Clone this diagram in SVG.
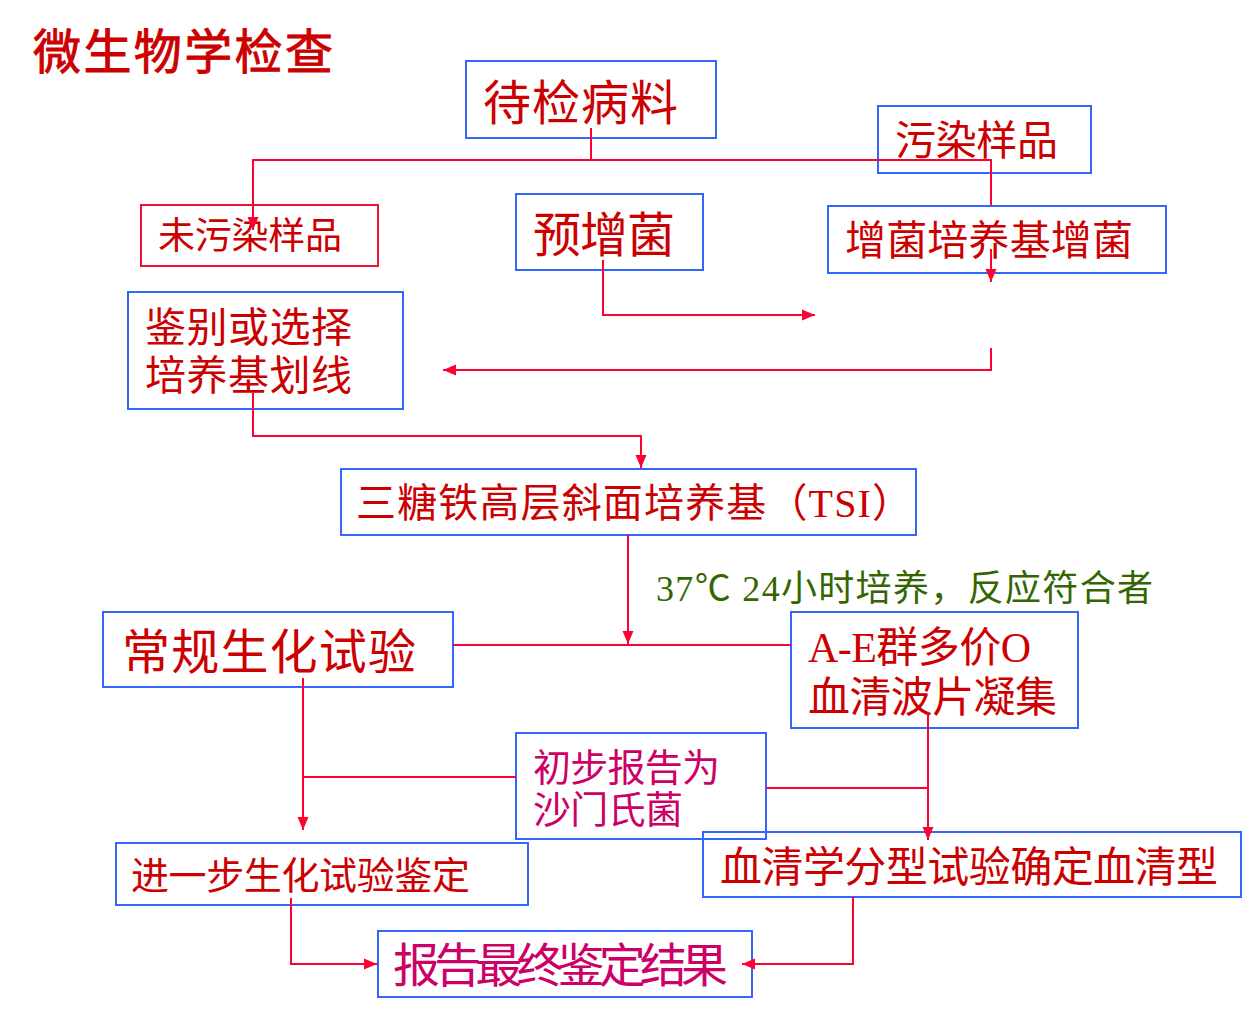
<svg xmlns="http://www.w3.org/2000/svg" width="1253" height="1012" viewBox="0 0 1253 1012">
<defs>
<style>
text{font-family:"Liberation Serif","Noto Sans CJK SC",serif;fill:#CC0000;}
.title{stroke:#CC0000;stroke-width:0.9;}
.pink{fill:#CC0066;}
.green{fill:#336600;}
.box{fill:none;stroke:#3366FF;stroke-width:2;}
.rbox{fill:none;stroke:#EE1133;stroke-width:2;}
.c{fill:none;stroke:#FF0033;stroke-width:2;}
.a{marker-end:url(#arr);}
</style>
<marker id="arr" markerUnits="userSpaceOnUse" markerWidth="13" markerHeight="13" refX="13" refY="6.5" orient="auto" viewBox="0 0 13 13">
<path d="M0,1 L13,6.5 L0,12 z" fill="#FF0033"/>
</marker>
</defs>
<rect width="1253" height="1012" fill="#FFFFFF"/>
<text class="title" x="33" y="69" font-size="48" textLength="300">微生物学检查</text>

<g id="n1"><rect class="box" x="466" y="61" width="250" height="77"/><text x="483" y="120" font-size="48" textLength="195">待检病料</text></g>
<g id="n2"><rect class="box" x="878" y="106" width="213" height="67"/><text x="895" y="155" font-size="41" textLength="163">污染样品</text></g>
<g id="n3"><rect class="rbox" x="141" y="205" width="237" height="61"/><text x="158" y="249" font-size="37" textLength="184">未污染样品</text></g>
<g id="n4"><rect class="box" x="516" y="194" width="187" height="76"/><text x="533" y="252" font-size="48" textLength="142">预增菌</text></g>
<g id="n5"><rect class="box" x="828" y="206" width="338" height="67"/><text x="845" y="255" font-size="41" textLength="288">增菌培养基增菌</text></g>
<g id="n6"><rect class="box" x="128" y="292" width="275" height="117"/><text x="145" y="342" font-size="41" textLength="207">鉴别或选择</text><text x="145" y="390" font-size="41" textLength="207">培养基划线</text></g>
<g id="n7"><rect class="box" x="341" y="469" width="575" height="66"/><text x="356" y="517" font-size="40" textLength="556">三糖铁高层斜面培养基（TSI）</text></g>
<g id="n8"><rect class="box" x="103" y="612" width="350" height="75"/><text x="122" y="669" font-size="48" textLength="294">常规生化试验</text></g>
<g id="n9"><rect class="box" x="791" y="612" width="287" height="116"/><text x="808" y="662" font-size="42" textLength="223">A-E群多价O</text><text x="808" y="712" font-size="42" textLength="249">血清波片凝集</text></g>
<g id="n10"><rect class="box" x="516" y="733" width="250" height="106"/><text class="pink" x="533" y="781" font-size="38" textLength="187">初步报告为</text><text class="pink" x="533" y="823" font-size="38" textLength="150">沙门氏菌</text></g>
<g id="n11"><rect class="box" x="703" y="832" width="538" height="65"/><text x="720" y="882" font-size="42" textLength="498">血清学分型试验确定血清型</text></g>
<g id="n12"><rect class="box" x="116" y="843" width="412" height="62"/><text x="131" y="889" font-size="38" textLength="339">进一步生化试验鉴定</text></g>
<g id="n13"><rect class="box" x="378" y="931" width="374" height="66"/><text class="pink" x="393" y="982" font-size="47" textLength="335">报告最终鉴定结果</text></g>

<text class="green" x="656" y="601" font-size="36" textLength="497">37℃ 24小时培养，反应符合者</text>

<g id="connectors">
<path class="c" d="M591 128 V160"/>
<path class="c a" d="M991 205 V160 H253 V230"/>
<path class="c a" d="M603 260 V315 H815"/>
<path class="c a" d="M991 249 V282"/>
<path class="c a" d="M991 348 V370 H443"/>
<path class="c a" d="M253 393 V436 H641 V468"/>
<path class="c a" d="M628 535 V644"/>
<path class="c" d="M453 645 H791"/>
<path class="c a" d="M303 678 V830"/>
<path class="c" d="M303 777 H516"/>
<path class="c a" d="M928 712 V840"/>
<path class="c" d="M766 788 H928"/>
<path class="c a" d="M291 898 V964 H377"/>
<path class="c a" d="M853 897 V964 H742"/>
</g>
</svg>
